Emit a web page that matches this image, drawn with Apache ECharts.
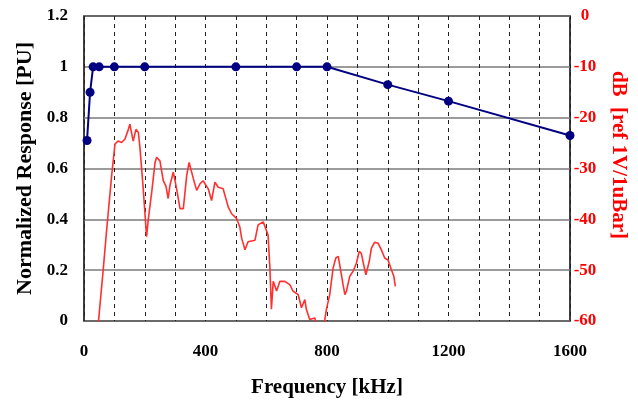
<!DOCTYPE html>
<html>
<head>
<meta charset="utf-8">
<script src="https://cdn.jsdelivr.net/npm/echarts@6/dist/echarts.min.js"></script>
<style>
  html, body { margin: 0; padding: 0; background: #fff; }
  #chart { width: 638px; height: 403px; }
</style>
</head>
<body>
<div id="chart"></div>
<script>
// 归一化响应（左轴）
var respFreq = [10, 20, 30, 50, 100, 200, 500, 700, 800, 1000, 1200, 1600];
var respValue = [0.71, 0.9, 1.0, 1.0, 1.0, 1.0, 1.0, 1.0, 1.0, 0.93, 0.865, 0.73];

// 灵敏度 dB（右轴），低于 -60 的点由坐标系裁剪
var dbFreq = [47, 63, 75, 91, 102, 112, 124, 135, 145, 151, 157, 162, 171, 179, 184, 195, 206, 212, 223, 234,
  239, 250, 261, 270, 277, 283, 294, 305, 316, 327, 338, 346, 360, 371, 382, 392, 409, 420, 431, 442,
  458, 475, 486, 502, 513, 519, 530, 540, 563, 573, 590, 595, 606, 612, 617, 623, 634, 645, 661, 678,
  688, 705, 716, 727, 732, 743, 760, 770, 785, 793, 798, 809, 820, 829, 837, 842, 853, 859, 864, 875,
  886, 897, 906, 913, 921, 928, 933, 939, 946, 957, 968, 979, 990, 1001, 1012, 1020, 1025];
var dbValue = [-60.5, -50.1, -41.8, -31.4, -25.2, -24.6, -24.9, -24.2, -22.5, -21.3, -21, -24.6, -22.3, -22.9, -25.8, -34, -43.4, -39.8, -34.6, -28.8,
  -27.8, -28.5, -32.4, -33.5, -35.9, -33.3, -30.7, -34, -37.9, -37.9, -31.4, -28.8, -32, -34.3, -33, -32.4, -34, -36.3, -32.7, -33.7,
  -34, -37.6, -38.9, -39.8, -41.5, -43.7, -46, -44.4, -44.1, -41.1, -40.5, -40.8, -43.1, -49.6, -57.7, -52.2, -54.1, -52.2, -52.2, -52.9,
  -54.1, -54.8, -57.4, -55.8, -57.7, -59.7, -59.4, -63, -63, -59.7, -57.7, -54.8, -49.6, -47.6, -47.3, -49, -52.9, -54.8, -54.1, -51.2,
  -50.2, -48.6, -46.3, -46.7, -49, -50.9, -51.2, -48.3, -45.7, -44.5, -44.7, -46, -47.6, -48, -49.9, -51.2, -53.2];

// 坐标轴标题
var xTitle = 'Frequency [kHz]';
var yLeftTitle = 'Normalized Response [PU]';
var yRightTitle = 'dB  [ref 1V/1uBar]';

function pairs(xs, ys) {
    return xs.map(function (x, i) { return [x, ys[i]]; });
}

var chart = echarts.init(document.getElementById('chart'));

var font = 'Liberation Serif';

var option = {
    animation: false,
    backgroundColor: '#fff',
    grid: {
        left: 84, right: 68, top: 16, bottom: 80,
        show: true,
        borderColor: '#000',
        borderWidth: 1.5
    },
    xAxis: {
        type: 'value',
        min: 0, max: 1600, interval: 100,
        name: xTitle,
        nameLocation: 'middle',
        nameGap: 56,
        nameTextStyle: { fontFamily: font, fontWeight: 'bold', fontSize: 21, color: '#000' },
        axisLine: { show: false },
        axisTick: { show: false },
        axisLabel: {
            margin: 22,
            fontFamily: font, fontWeight: 'bold', fontSize: 17, color: '#000',
            formatter: function (v) { return v % 400 === 0 ? String(v) : ''; }
        },
        splitLine: { show: true, lineStyle: { color: '#222', type: [4, 4], width: 1 } }
    },
    yAxis: [{
        type: 'value',
        min: 0, max: 1.2, interval: 0.2,
        name: yLeftTitle,
        nameLocation: 'middle',
        nameGap: 48,
        nameTextStyle: { fontFamily: font, fontWeight: 'bold', fontSize: 22, color: '#000' },
        axisLine: { show: false },
        axisTick: { show: false },
        axisLabel: { margin: 16, fontFamily: font, fontWeight: 'bold', fontSize: 17, color: '#000' },
        splitLine: { show: true, lineStyle: { color: '#7a7a7a', width: 1.5 } }
    }, {
        type: 'value',
        min: -60, max: 0, interval: 10,
        position: 'right',
        axisLine: { show: false },
        axisTick: { show: false },
        axisLabel: { margin: 15, align: 'center', fontFamily: font, fontWeight: 'bold', fontSize: 17, color: '#ff0000' },
        splitLine: { show: false }
    }],
    graphic: [{
        type: 'text',
        x: 618, y: 155,
        rotation: -Math.PI / 2,
        style: {
            text: yRightTitle,
            font: 'bold 21px "Liberation Serif"',
            fill: '#ff0000',
            align: 'center',
            verticalAlign: 'middle'
        }
    }],
    series: [{
        name: 'dB',
        type: 'line',
        yAxisIndex: 1,
        data: pairs(dbFreq, dbValue),
        showSymbol: false,
        clip: true,
        lineStyle: { color: '#ff3030', width: 1.6 },
        z: 2
    }, {
        name: 'PU',
        type: 'line',
        yAxisIndex: 0,
        data: pairs(respFreq, respValue),
        symbol: 'circle',
        symbolSize: 9,
        itemStyle: { color: '#000080' },
        lineStyle: { color: '#000080', width: 2 },
        z: 3
    }]
};

chart.setOption(option);
</script>
</body>
</html>
